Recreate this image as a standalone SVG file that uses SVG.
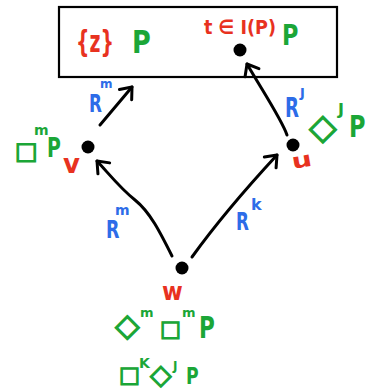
<svg xmlns="http://www.w3.org/2000/svg" width="369" height="390" viewBox="0 0 369 390">
<style>
text{font-family:"DejaVu Sans","Noto Sans",sans-serif;font-weight:bold}
.r{fill:#e8321f}
.g{fill:#1ba637}
.b{fill:#2d6ce8}
.sh{stroke:#1ba637;stroke-width:1.3;font-weight:normal}
.dot{fill:#000}
.edge{fill:none;stroke:#000;stroke-width:3;stroke-linecap:round}
</style>
<defs>
<marker id="ah" markerUnits="userSpaceOnUse" markerWidth="24" markerHeight="24" refX="12" refY="12" orient="auto" viewBox="0 0 24 24">
<path d="M2,4 L12,12 L2,20" fill="none" stroke="#000" stroke-width="3" stroke-linecap="round" stroke-linejoin="round"/>
</marker>
</defs>
<rect x="59" y="7" width="278" height="70" fill="#fff" stroke="#000" stroke-width="2.2"/>
<g id="top-left">
<text class="r" transform="translate(76,52) scale(0.63,1)" font-size="30">{z}</text>
<text class="g" transform="translate(132,53) scale(0.8,1)" font-size="32">P</text>
</g>
<g id="t">
<circle class="dot" cx="240" cy="50" r="6.5"/>
<text class="r" transform="translate(204,34) scale(0.88,1)" font-size="20">t ∈ I(P)</text>
<text class="g" transform="translate(282,45) scale(0.8,1)" font-size="28">P</text>
</g>
<g id="v">
<circle class="dot" cx="88" cy="147" r="6.5"/>
<text class="r" x="63" y="173" font-size="26">v</text>
<text class="g sh" x="15" y="159" font-size="24">□</text>
<text class="g" x="34" y="135" font-size="14">m</text>
<text class="g" transform="translate(47,157) scale(0.7,1)" font-size="27">P</text>
</g>
<g id="u">
<circle class="dot" cx="293" cy="145" r="6.5"/>
<text class="r" transform="translate(293,169) rotate(-10) scale(1.35,1)" font-size="21">u</text>
<text class="g sh" x="309" y="139" font-size="36">◇</text>
<text class="g" x="338" y="115" font-size="16">J</text>
<text class="g" transform="translate(349,137) scale(0.75,1)" font-size="30">P</text>
</g>
<g id="w">
<circle class="dot" cx="182" cy="268" r="6.5"/>
<text class="r" transform="translate(162,300) scale(0.9,1)" font-size="25">w</text>
<text class="g sh" x="115" y="336" font-size="32">◇</text>
<text class="g" x="140" y="317" font-size="13">m</text>
<text class="g sh" x="160" y="336" font-size="22">□</text>
<text class="g" x="182" y="317" font-size="13">m</text>
<text class="g" transform="translate(199,338) scale(0.72,1)" font-size="30">P</text>
<text class="g sh" x="119" y="382" font-size="22">□</text>
<text class="g" x="139" y="368" font-size="14">K</text>
<text class="g sh" x="150" y="384" font-size="28">◇</text>
<text class="g" x="173" y="370" font-size="12">J</text>
<text class="g" transform="translate(186,384) scale(0.75,1)" font-size="23">P</text>
</g>
<g id="connectors">
<path class="edge" d="M100,125 L132,87" marker-end="url(#ah)"/>
<path class="edge" d="M287,135 C282,120 262,90 247,64" marker-end="url(#ah)"/>
<path class="edge" d="M172,256 C160,232 150,212 135,200 C120,188 110,175 97,161" marker-end="url(#ah)"/>
<path class="edge" d="M192,257 C210,232 240,195 277,155" marker-end="url(#ah)"/>
<text class="b" transform="translate(89,112) scale(0.7,1)" font-size="24">R</text>
<text class="b" x="100" y="88" font-size="12">m</text>
<text class="b" transform="translate(285,117) scale(0.7,1)" font-size="26">R</text>
<text class="b" x="300" y="97" font-size="13">J</text>
<text class="b" transform="translate(106,238) scale(0.7,1)" font-size="25">R</text>
<text class="b" x="115" y="215" font-size="14">m</text>
<text class="b" transform="translate(236,230) scale(0.7,1)" font-size="24">R</text>
<text class="b" x="251" y="210" font-size="16">k</text>
</g>
</svg>
